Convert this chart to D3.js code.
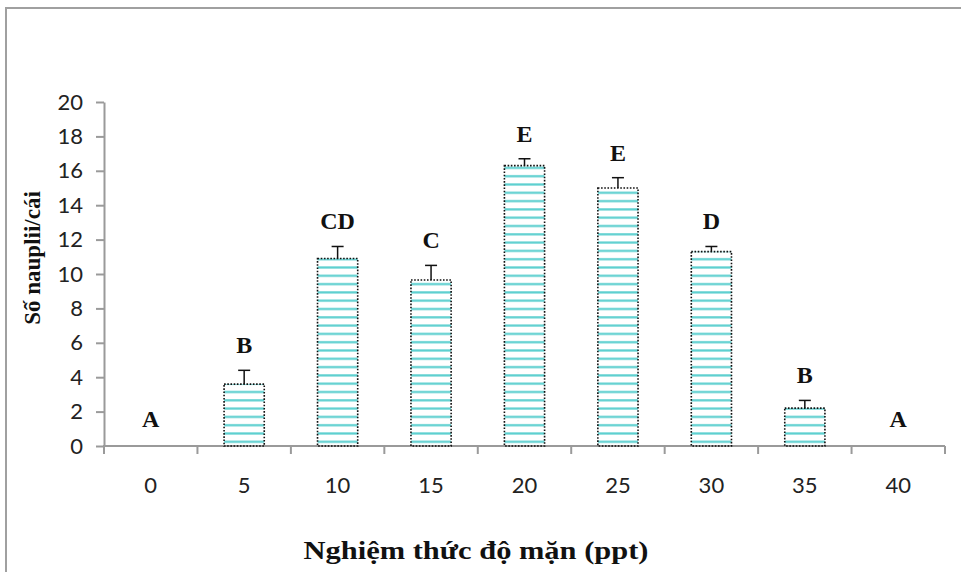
<!DOCTYPE html>
<html><head><meta charset="utf-8">
<script src="https://cdn.jsdelivr.net/npm/d3@7/dist/d3.min.js"></script>
<style>body{margin:0;background:#fff}svg{display:block}</style>
</head><body>
<script>
const categories = ["0","5","10","15","20","25","30","35","40"];
const means = [0, 3.6, 10.9, 9.65, 16.3, 15.0, 11.3, 2.2, 0];
const errors = [0, 0.8, 0.7, 0.85, 0.4, 0.6, 0.3, 0.45, 0];
const letters = ["A","B","CD","C","E","E","D","B","A"];
const yTicks = [0,2,4,6,8,10,12,14,16,18,20];

const W = 961, H = 572;
const svg = d3.select("body").append("svg").attr("width", W).attr("height", H);
const defs = svg.append("defs");
const pat = defs.append("pattern").attr("id","hstripe").attr("patternUnits","userSpaceOnUse")
  .attr("width", 8).attr("height", 8.3).attr("y", 446);
pat.append("rect").attr("x",0).attr("y",3).attr("width",8).attr("height",2.2).attr("fill","#5ccfcf");

// outer frame
svg.append("path").attr("d", `M6,${H} L6,8 L${W},8`).attr("fill","none").attr("stroke","#a0a0a0").attr("stroke-width",2);

const x = d3.scaleBand().domain(categories).range([104, 945]).paddingInner(0.57).paddingOuter(0.285);
const xb = d3.scaleBand().domain(categories).range([104, 945]);
const y = d3.scaleLinear().domain([0, 20]).range([446, 102]);

const axisColor = "#9a9a9a";
const tickFont = "Lato, 'Open Sans', sans-serif";
// y axis
const ya = svg.append("g").attr("transform","translate(104,0)")
  .call(d3.axisLeft(y).tickValues(yTicks).tickSize(8).tickSizeOuter(0).tickPadding(13));
ya.select(".domain").attr("stroke", axisColor).attr("stroke-width",2);
ya.selectAll(".tick line").attr("stroke", axisColor).attr("stroke-width",2);
ya.selectAll(".tick text").attr("font-family",tickFont).attr("font-size",22).attr("fill","#222");

// x axis
const xa = svg.append("g").attr("transform","translate(0,446)")
  .call(d3.axisBottom(xb).tickSize(0).tickPadding(31));
xa.select(".domain").remove();
xa.selectAll(".tick text").attr("font-family",tickFont).attr("font-size",22).attr("fill","#222");
svg.append("line").attr("x1",103).attr("x2",945).attr("y1",446).attr("y2",446).attr("stroke",axisColor).attr("stroke-width",2);
const bounds = categories.map(c => xb(c)).concat([945]);
svg.selectAll("line.xt").data(bounds).join("line").attr("class","xt")
  .attr("x1", d=>d).attr("x2", d=>d).attr("y1",446).attr("y2",454).attr("stroke",axisColor).attr("stroke-width",2);

// bars
const data = categories.map((c,i)=>({c, m:means[i], e:errors[i], l:letters[i]}));
const bars = data.filter(d=>d.m>0);
svg.selectAll("rect.bar").data(bars).join("rect").attr("class","bar")
  .attr("x", d=>x(d.c)).attr("width", x.bandwidth())
  .attr("y", d=>y(d.m)).attr("height", d=>y(0)-y(d.m))
  .attr("fill","url(#hstripe)").attr("stroke","#111").attr("stroke-width",1.6).attr("stroke-dasharray","1.6,1.6");

// error bars
svg.selectAll("line.eb").data(bars).join("line").attr("class","eb")
  .attr("x1", d=>x(d.c)+x.bandwidth()/2).attr("x2", d=>x(d.c)+x.bandwidth()/2)
  .attr("y1", d=>y(d.m)).attr("y2", d=>y(d.m+d.e)).attr("stroke","#111").attr("stroke-width",1.5);
svg.selectAll("line.cap").data(bars).join("line").attr("class","cap")
  .attr("x1", d=>x(d.c)+x.bandwidth()/2-6).attr("x2", d=>x(d.c)+x.bandwidth()/2+6)
  .attr("y1", d=>y(d.m+d.e)).attr("y2", d=>y(d.m+d.e)).attr("stroke","#111").attr("stroke-width",1.5);

// letters
svg.selectAll("text.lt").data(data).join("text").attr("class","lt")
  .attr("x", d=>xb(d.c)+xb.bandwidth()/2)
  .attr("y", d=> d.m>0 ? y(d.m+d.e)-17 : 427)
  .attr("text-anchor","middle").attr("font-family","'Liberation Serif', 'Times New Roman', serif")
  .attr("font-weight","bold").attr("font-size",24).attr("fill","#111").text(d=>d.l);

// axis titles
svg.append("text").attr("transform","translate(40,258) rotate(-90)").attr("text-anchor","middle")
  .attr("font-family","'Liberation Serif', 'Times New Roman', serif").attr("font-weight","bold").attr("font-size",23)
  .attr("fill","#111").text("Số nauplii/cái");
svg.append("text").attr("x",476).attr("y",559).attr("text-anchor","middle")
  .attr("font-family","'Liberation Serif', 'Times New Roman', serif").attr("font-weight","bold").attr("font-size",25)
  .attr("textLength",345).attr("lengthAdjust","spacingAndGlyphs")
  .attr("fill","#111").text("Nghiệm thức độ mặn (ppt)");
</script>
</body></html>
